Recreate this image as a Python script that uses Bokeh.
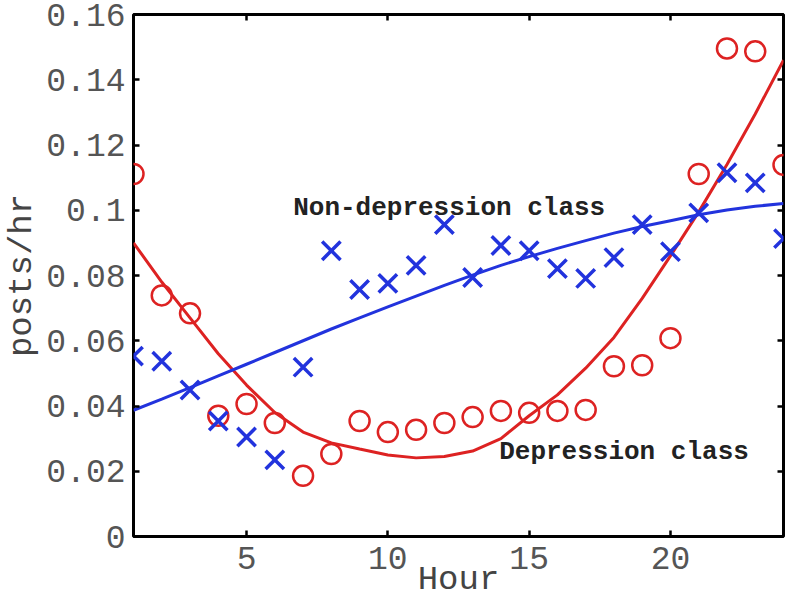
from bokeh.plotting import figure
from bokeh.models import Range1d, LinearAxis, FixedTicker, Label
from bokeh.embed import file_html
from bokeh.resources import INLINE

# ---- data ----
hours = list(range(1, 25))

depression = [0.1111, 0.0739, 0.0684, 0.0370, 0.0406, 0.0348, 0.0186, 0.0253,
              0.0354, 0.0320, 0.0327, 0.0348, 0.0366, 0.0385, 0.0379, 0.0385,
              0.0388, 0.0522, 0.0525, 0.0608, 0.1111, 0.1496, 0.1487, 0.1139]

non_depression = [0.0553, 0.0537, 0.0449, 0.0354, 0.0305, 0.0235, 0.0519, 0.0876,
                  0.0757, 0.0776, 0.0831, 0.0956, 0.0794, 0.0892, 0.0876, 0.0821,
                  0.0791, 0.0855, 0.0956, 0.0873, 0.0992, 0.1115, 0.1084, 0.0913]

depression_fit = [0.0900, 0.0780, 0.0670, 0.0560, 0.0464, 0.0380, 0.0320, 0.0287,
                  0.0268, 0.0250, 0.0241, 0.0245, 0.0262, 0.0300, 0.0370, 0.0434,
                  0.0516, 0.0610, 0.0730, 0.0860, 0.0995, 0.1140, 0.1295, 0.1460]

non_depression_fit = [0.0387, 0.0421, 0.0456, 0.0492, 0.0528, 0.0564, 0.0600, 0.0636,
                      0.0670, 0.0704, 0.0737, 0.0770, 0.0801, 0.0831, 0.0858, 0.0883,
                      0.0907, 0.0930, 0.0950, 0.0968, 0.0986, 0.1001, 0.1012, 0.1021]

x_ticks = [5, 10, 15, 20]
y_ticks = [0, 0.02, 0.04, 0.06, 0.08, 0.1, 0.12, 0.14, 0.16]
y_tick_labels = ["0", "0.02", "0.04", "0.06", "0.08", "0.1", "0.12", "0.14", "0.16"]
x_title = "Hour"
y_title = "posts/hr"

RED = "#dd2222"
BLUE = "#2233dd"
MONO = "Liberation Mono"

p = figure(width=795, height=601, output_backend="svg", toolbar_location=None,
           x_range=Range1d(1, 24), y_range=Range1d(0, 0.16),
           min_border_left=130, min_border_top=14, min_border_right=12, min_border_bottom=64)

p.xgrid.visible = False
p.ygrid.visible = False
p.outline_line_color = "black"
p.outline_line_width = 3
p.outline_line_alpha = 1.0

# fitted curves
p.line(hours, depression_fit, line_color=RED, line_width=3)
p.line(hours, non_depression_fit, line_color=BLUE, line_width=3)

# observations
p.scatter(hours, depression, marker="circle", size=20, fill_color=None,
          line_color=RED, line_width=2.5)
p.scatter(hours, non_depression, marker="x", size=26, line_color=BLUE, line_width=3.5)

# annotations
p.add_layout(Label(x=6.65, y=0.1008, text="Non-depression class", text_font=MONO,
                   text_font_style="bold", text_font_size="26px", text_color="#222222",
                   text_baseline="middle"))
p.add_layout(Label(x=13.94, y=0.026, text="Depression class", text_font=MONO,
                   text_font_style="bold", text_font_size="26px", text_color="#222222",
                   text_baseline="middle"))

def style_axis(ax, show_labels):
    ax.axis_line_color = None
    ax.major_tick_in = 6
    ax.major_tick_out = 0
    ax.major_tick_line_width = 2.5
    ax.major_tick_line_color = "black"
    ax.minor_tick_line_color = None
    ax.major_label_text_font = MONO
    if show_labels:
        ax.major_label_text_font_size = "33px"
        ax.major_label_text_color = "#555555"
    else:
        ax.major_label_text_font_size = "1px"
        ax.major_label_text_color = None
        ax.major_label_standoff = 0
        ax.axis_label_standoff = 0

p.xaxis.ticker = FixedTicker(ticks=x_ticks)
p.yaxis.ticker = FixedTicker(ticks=y_ticks)
p.yaxis.major_label_overrides = {t: l for t, l in zip(y_ticks, y_tick_labels)}
style_axis(p.xaxis[0], True)
style_axis(p.yaxis[0], True)
p.yaxis.major_label_standoff = 8
p.xaxis.major_label_standoff = 10

p.xaxis.axis_label = x_title
p.yaxis.axis_label = y_title
for ax in (p.xaxis[0], p.yaxis[0]):
    ax.axis_label_text_font = MONO
    ax.axis_label_text_font_size = "34px"
    ax.axis_label_text_font_style = "normal"
    ax.axis_label_text_color = "#444444"
p.yaxis.axis_label_standoff = 2
p.xaxis.axis_label_standoff = -11

top_ax = LinearAxis(ticker=FixedTicker(ticks=x_ticks))
right_ax = LinearAxis(ticker=FixedTicker(ticks=y_ticks))
style_axis(top_ax, False)
style_axis(right_ax, False)
p.add_layout(top_ax, "above")
p.add_layout(right_ax, "right")

open("out.html", "w").write(file_html(p, INLINE))
